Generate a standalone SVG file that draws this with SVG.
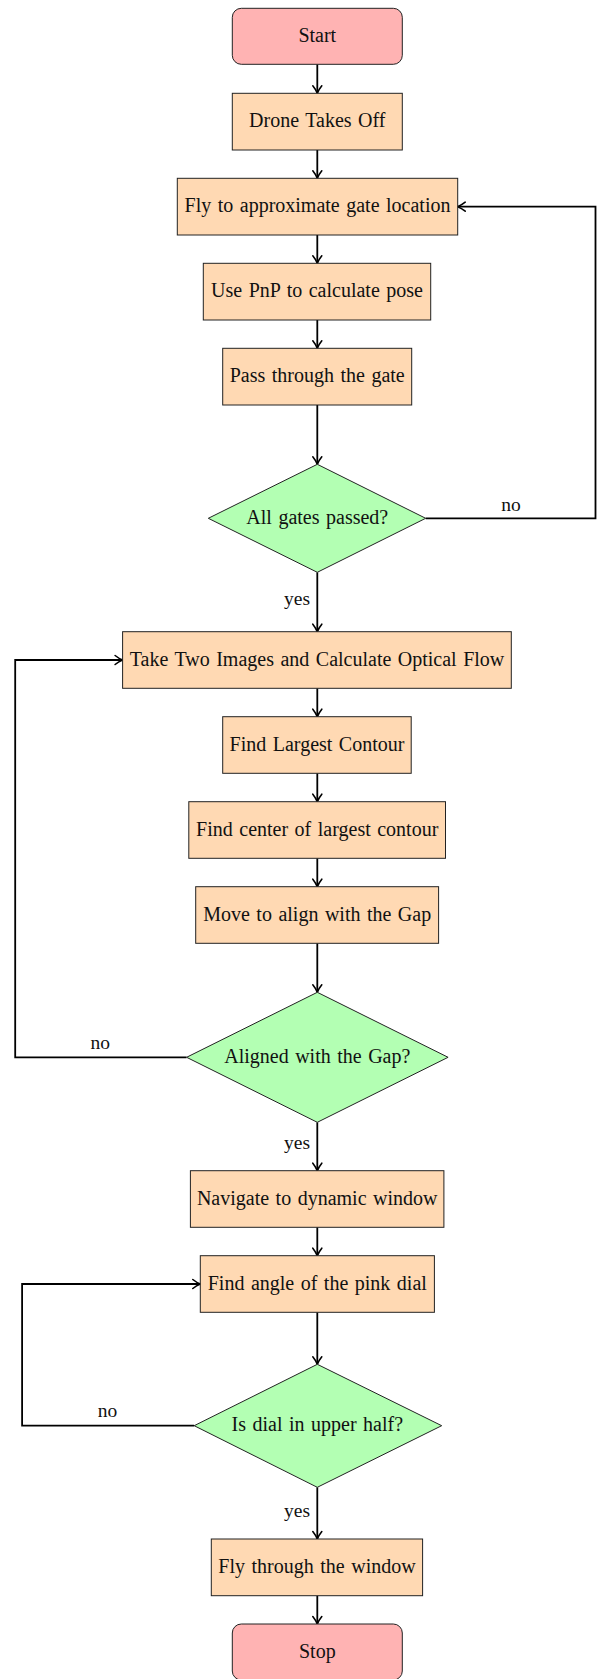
<svg xmlns="http://www.w3.org/2000/svg" width="597" height="1679" viewBox="0 0 597 1679">
<style>
.t{font-family:"Liberation Serif","Times New Roman",serif;font-size:20px;fill:#111;text-anchor:middle;word-spacing:1.5px}
.l{font-family:"Liberation Serif","Times New Roman",serif;font-size:19.5px;fill:#111}
.term{fill:#FFB3B3;stroke:#222;stroke-width:1}
.proc{fill:#FFD9B3;stroke:#222;stroke-width:1}
.dec{fill:#B3FFB3;stroke:#222;stroke-width:1}
.c{fill:none;stroke:#000;stroke-width:1.8;marker-end:url(#ah)}
</style>
<defs>
<marker id="ah" markerUnits="userSpaceOnUse" markerWidth="14" markerHeight="14" viewBox="-10 -7 12 14" refX="0" refY="0" orient="auto">
<path d="M -7.5,-4.5 C -5,-2.5 -1.5,-0.6 0,0 C -1.5,0.6 -5,2.5 -7.5,4.5" fill="none" stroke="#000" stroke-width="1.6" stroke-linecap="round" stroke-linejoin="round"/>
</marker>
</defs>
<g id="connectors">
<path class="c" d="M317.3,64.3 V93.3"/>
<path class="c" d="M317.3,150 V178.3"/>
<path class="c" d="M317.3,235 V263.3"/>
<path class="c" d="M317.3,320 V348.3"/>
<path class="c" d="M317.3,405 V464.3"/>
<path class="c" d="M425.7,518.3 H595.5 V206.7 H457.7"/>
<path class="c" d="M317.3,572.3 V631.7"/>
<path class="c" d="M317.3,688.3 V716.7"/>
<path class="c" d="M317.3,773.3 V801.7"/>
<path class="c" d="M317.3,858.3 V886.7"/>
<path class="c" d="M317.3,943.3 V992.3"/>
<path class="c" d="M186.6,1057.3 H15.2 V660 H122.6"/>
<path class="c" d="M317.3,1122.3 V1170.7"/>
<path class="c" d="M317.3,1227.3 V1255.7"/>
<path class="c" d="M317.3,1312.3 V1364.3"/>
<path class="c" d="M194.2,1425.7 H22.1 V1284 H200.3"/>
<path class="c" d="M317.3,1487.3 V1539"/>
<path class="c" d="M317.3,1595.7 V1624"/>
<text class="l" x="511" y="511" text-anchor="middle">no</text>
<text class="l" x="310" y="605" text-anchor="end">yes</text>
<text class="l" x="100.3" y="1049.3" text-anchor="middle">no</text>
<text class="l" x="310" y="1149.3" text-anchor="end">yes</text>
<text class="l" x="107.4" y="1417.3" text-anchor="middle">no</text>
<text class="l" x="310" y="1516.7" text-anchor="end">yes</text>
</g>
<g id="start"><rect class="term" x="232.3" y="8.3" width="170" height="56" rx="9"/><text class="t" x="317.3" y="41.8">Start</text></g>
<g id="takeoff"><rect class="proc" x="232.3" y="93.3" width="170" height="56.7"/><text class="t" x="317.3" y="127.1">Drone Takes Off</text></g>
<g id="fly"><rect class="proc" x="177.3" y="178.3" width="280.4" height="56.7"/><text class="t" x="317.5" y="212.1">Fly to approximate gate location</text></g>
<g id="pnp"><rect class="proc" x="203.3" y="263.3" width="227.4" height="56.7"/><text class="t" x="317" y="297.1">Use PnP to calculate pose</text></g>
<g id="pass"><rect class="proc" x="222.7" y="348.3" width="189" height="56.7"/><text class="t" x="317.2" y="382.1">Pass through the gate</text></g>
<g id="dec1"><polygon class="dec" points="317.3,464.3 425.7,518.3 317.3,572.3 208.3,518.3"/><text class="t" x="317.3" y="523.8">All gates passed?</text></g>
<g id="optflow"><rect class="proc" x="122.6" y="631.7" width="388.7" height="56.6"/><text class="t" x="317" y="665.5">Take Two Images and Calculate Optical Flow</text></g>
<g id="largest"><rect class="proc" x="222.7" y="716.7" width="188.5" height="56.6"/><text class="t" x="317" y="750.5">Find Largest Contour</text></g>
<g id="center"><rect class="proc" x="188.8" y="801.7" width="256.7" height="56.6"/><text class="t" x="317.2" y="835.5">Find center of largest contour</text></g>
<g id="move"><rect class="proc" x="195.7" y="886.7" width="242.9" height="56.6"/><text class="t" x="317.2" y="920.5">Move to align with the Gap</text></g>
<g id="dec2"><polygon class="dec" points="317.3,992.3 448.1,1057.3 317.3,1122.3 186.6,1057.3"/><text class="t" x="317.3" y="1062.8">Aligned with the Gap?</text></g>
<g id="navigate"><rect class="proc" x="190.4" y="1170.7" width="253.5" height="56.6"/><text class="t" x="317.2" y="1204.5">Navigate to dynamic window</text></g>
<g id="angle"><rect class="proc" x="200.3" y="1255.7" width="234.1" height="56.6"/><text class="t" x="317.3" y="1289.5">Find angle of the pink dial</text></g>
<g id="dec3"><polygon class="dec" points="317.3,1364.3 441.7,1425.7 317.3,1487.3 194.2,1425.7"/><text class="t" x="317.3" y="1431.2">Is dial in upper half?</text></g>
<g id="flywin"><rect class="proc" x="211.3" y="1539" width="211.3" height="56.7"/><text class="t" x="317" y="1572.8">Fly through the window</text></g>
<g id="stop"><rect class="term" x="232.3" y="1624" width="170" height="56" rx="9"/><text class="t" x="317.3" y="1657.5">Stop</text></g>
</svg>
